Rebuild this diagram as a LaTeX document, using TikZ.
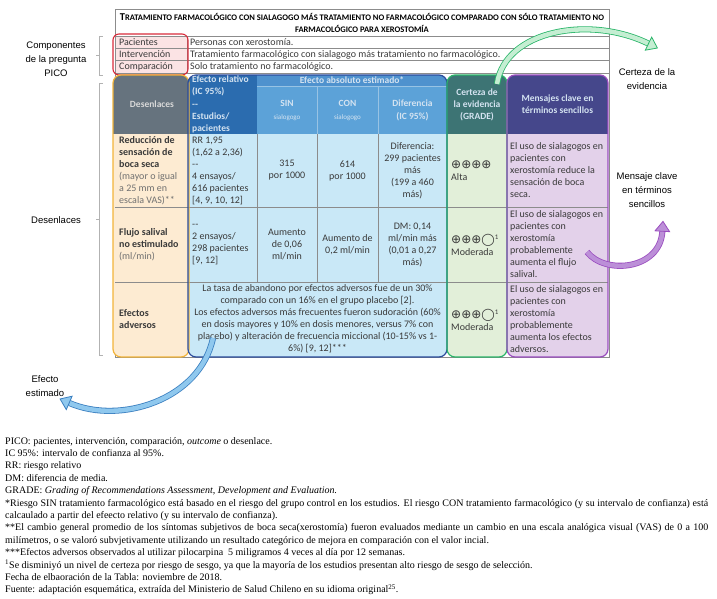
\documentclass[tikz,border=0pt]{standalone}
\usepackage{fontspec}
\setmainfont{Carlito}
\newfontfamily\armfont{Liberation Sans}
\newfontfamily\notefont{Liberation Serif}
\newfontfamily\symfont{DejaVu Sans}
\usetikzlibrary{positioning,arrows.meta}

\definecolor{pinkcell}{HTML}{FBE3E4}
\definecolor{redline}{HTML}{D92B3A}
\definecolor{gridgray}{HTML}{8C8C8C}
\definecolor{orgbody}{HTML}{FDEBD2}
\definecolor{orgline}{HTML}{F2B43A}
\definecolor{deshead}{HTML}{66737E}
\definecolor{relhead}{HTML}{2B6CAF}
\definecolor{absband}{HTML}{4F92CE}
\definecolor{abshead}{HTML}{5CA2D8}
\definecolor{bluebody}{HTML}{C9E8F7}
\definecolor{blueline}{HTML}{2B4C9C}
\definecolor{grnhead}{HTML}{3D7474}
\definecolor{grnbody}{HTML}{E2EFD9}
\definecolor{grnline}{HTML}{2BB56A}
\definecolor{purhead}{HTML}{45478B}
\definecolor{purbody}{HTML}{E3D1EA}
\definecolor{purline}{HTML}{9A4DBF}
\definecolor{bodytext}{HTML}{3A3A3A}
\definecolor{softtext}{HTML}{707070}
\definecolor{headtext}{HTML}{D4E3F1}
\definecolor{grnband}{HTML}{C4EED2}
\definecolor{purband}{HTML}{BC8FD8}
\definecolor{bluband}{HTML}{8FC8EE}
\definecolor{bluarrow}{HTML}{3A7FC0}

\newcommand\des[1]{\textbf{#1}}
\newcommand\desnote[1]{\textcolor{softtext}{#1}}

\begin{document}
\begin{tikzpicture}[x=1pt,y=-1pt,
	cell/.style={inner sep=0pt, align=center, text=bodytext, font=\fontsize{10}{12}\selectfont},
	lcell/.style={cell, align=left, anchor=west},
	headcell/.style={cell, text=headtext, font=\bfseries\fontsize{9.5}{12.3}\selectfont},
	picocell/.style={inner sep=0pt, anchor=west, text=bodytext, font=\fontsize{10}{12}\selectfont},
	side/.style={inner sep=0pt, align=center, font=\armfont\fontsize{9.5}{14}\selectfont},
	frame/.style={draw=gridgray, line width=0.6pt},
	brk/.style={draw=gray!60, line width=0.7pt},
	fat/.style 2 args={draw=#1, double=#2, line width=0.8pt, double distance=4.5pt,
		-{Triangle[width=16pt,length=11pt,line width=0.8pt,fill=#2]}}
	]
	\useasboundingbox (0,0) rectangle (717,599);

	% title and PICO rows
	\fill[pinkcell] (115,36) rectangle (187,73);
	\draw[frame] (115,9) rectangle (609,357);
	\draw[frame] (115,36) -- (609,36) (115,48.3) -- (609,48.3) (115,60.7) -- (609,60.7) (115,73) -- (609,73);
	\draw[frame] (187,36) -- (187,73);
	\draw[redline, line width=1.1pt, rounded corners=6pt] (113,34) rectangle (188,75);
	\node[cell, text=black, font=\bfseries\fontsize{8.5}{12.3}\selectfont] (title) at (362,23) {{\fontsize{10.5}{12.3}\selectfont T}RATAMIENTO FARMACOLÓGICO CON SIALAGOGO MÁS TRATAMIENTO NO FARMACOLÓGICO COMPARADO CON SÓLO TRATAMIENTO NO\\FARMACOLÓGICO PARA XEROSTOMÍA};
	\node[picocell] (pac) at (119,42) {Pacientes};
	\node[picocell] (int) at (119,54.5) {Intervención};
	\node[picocell] (comp) at (119,67) {Comparación};
	\node[picocell] (pacv) at (190,42) {Personas con xerostomía.};
	\node[picocell] (intv) at (190,54.5) {Tratamiento farmacológico con sialagogo más tratamiento no farmacológico.};
	\node[picocell] (compv) at (190,67) {Solo tratamiento no farmacológico.};

	% column boxes
	\foreach \xa/\xb/\bodyc/\headc in {113/189/orgbody/deshead, 188/447/bluebody/relhead, 447/507/grnbody/grnhead, 507/608/purbody/purhead}{
		\begin{scope}
			\clip[rounded corners=8pt] (\xa,75) rectangle (\xb,357);
			\fill[\bodyc] (\xa,75) rectangle (\xb,357);
			\fill[\headc] (\xa,75) rectangle (\xb,134);
		\end{scope}
	}
	\begin{scope}
		\clip[rounded corners=8pt] (188,75) rectangle (447,357);
		\fill[absband] (257,75) rectangle (447,86);
		\fill[abshead] (257,86) rectangle (447,134);
	\end{scope}
	\draw[frame] (115,207) -- (608,207) (115,282) -- (608,282);
	\foreach \x in {257,317,378}
		\draw[frame] (\x,134) -- (\x,282);
	\draw[headtext!50!abshead, line width=0.5pt] (257,86) -- (447,86) (317,86) -- (317,134) (378,86) -- (378,134);
	\foreach \xa/\xb/\edgec in {113/189/orgline, 188/447/blueline, 447/507/grnline, 507/608/purline}
		\draw[\edgec, line width=1.2pt, rounded corners=8pt] (\xa,75) rectangle (\xb,357);

	% headers
	\node[headcell, text=gray!30] (hdes) at (152,104.5) {Desenlaces};
	\node[headcell, align=left, anchor=west] (hrel) at (192,104.5) {Efecto relativo\\(IC 95\%)\\-{}-\\Estudios/\\pacientes};
	\node[headcell] (habs) at (352,80.5) {Efecto absoluto estimado*};
	\node[headcell] (hsin) at (287,110.5) {SIN\\{\mdseries\fontsize{7}{10}\selectfont sialogogo}};
	\node[headcell] (hcon) at (347.5,110.5) {CON\\{\mdseries\fontsize{7}{10}\selectfont sialogogo}};
	\node[headcell] (hdif) at (412.5,110.5) {Diferencia\\(IC 95\%)};
	\node[headcell] (hgrade) at (477,105) {Certeza de\\la evidencia\\(GRADE)};
	\node[headcell] (hmsg) at (557.5,104) {Mensajes clave en\\términos sencillos};

	% row 1
	\node[lcell] (r1des) at (119,170.5) {\des{Reducción de}\\\des{sensación de}\\\des{boca seca}\\\desnote{(mayor o igual}\\\desnote{a 25 mm en}\\\desnote{escala VAS)**}};
	\node[lcell] (r1rel) at (192,170.5) {RR 1,95\\(1,62 a 2,36)\\-{}-\\4 ensayos/\\616 pacientes\\{[4, 9, 10, 12]}};
	\node[cell] (r1sin) at (287,170.5) {315\\por 1000};
	\node[cell] (r1con) at (347.5,170.5) {614\\por 1000};
	\node[cell] (r1dif) at (412.5,170.5) {Diferencia:\\299 pacientes\\más\\(199 a 460\\más)};
	\node[lcell] (r1grade) at (451,171) {{\symfont\fontsize{12}{12}\selectfont ⊕⊕⊕⊕}\\Alta};
	\node[lcell] (r1msg) at (510,170.5) {El uso de sialagogos en\\pacientes con\\xerostomía reduce la\\sensación de boca\\seca.};

	% row 2
	\node[lcell] (r2des) at (119,244.5) {\des{Flujo salival}\\\des{no estimulado}\\\desnote{(ml/min)}};
	\node[lcell] (r2rel) at (192,244.5) {-{}-\\2 ensayos/\\298 pacientes\\{[9, 12]}};
	\node[cell] (r2sin) at (287,244.5) {Aumento\\de 0,06\\ml/min};
	\node[cell] (r2con) at (347.5,244.5) {Aumento de\\0,2 ml/min};
	\node[cell] (r2dif) at (412.5,244.5) {DM: 0,14\\ml/min más\\(0,01 a 0,27\\más)};
	\node[lcell] (r2grade) at (451,245) {{\symfont\fontsize{12}{12}\selectfont ⊕⊕⊕◯}\textsuperscript{1}\\Moderada};
	\node[lcell] (r2msg) at (510,244.5) {El uso de sialagogos en\\pacientes con\\xerostomía\\probablemente\\aumenta el flujo\\salival.};

	% row 3
	\node[lcell] (r3des) at (119,319) {\des{Efectos}\\\des{adversos}};
	\node[cell] (r3eff) at (317.5,319) {La tasa de abandono por efectos adversos fue de un 30\%\\comparado con un 16\% en el grupo placebo [2].\\Los efectos adversos más frecuentes fueron sudoración (60\%\\en dosis mayores y 10\% en dosis menores, versus 7\% con\\placebo) y alteración de frecuencia miccional (10-15\% vs 1-\\6\%) [9, 12]***};
	\node[lcell] (r3grade) at (451,319.5) {{\symfont\fontsize{12}{12}\selectfont ⊕⊕⊕◯}\textsuperscript{1}\\Moderada};
	\node[lcell] (r3msg) at (510,319) {El uso de sialagogos en\\pacientes con\\xerostomía\\probablemente\\aumenta los efectos\\adversos.};

	% side labels
	\node[side] (pico) at (56,59) {Componentes\\de la pregunta\\PICO};
	\node[side] (desen) at (56,220) {Desenlaces};
	\node[side] (certeza) at (647,79) {Certeza de la\\evidencia};
	\node[side] (mensaje) at (647,190) {Mensaje clave\\en términos\\sencillos};
	\node[side] (efecto) at (45,386) {Efecto\\estimado};
	\draw[brk] (103,36) -- (99,36) -- (99,75) -- (103,75) (99,55.5) -- (96,55.5);
	\draw[brk] (103,83) -- (99,83) -- (99,355) -- (103,355) (99,219) -- (96,219);

	% curved arrows
	\coordinate (gsrc) at (497,84);
	\coordinate (psrc) at (587,252);
	\coordinate (bsrc) at (213,338);
	\draw[fat={grnline}{grnband}] (gsrc) .. controls (505,30) and (590,15) .. ([xshift=11pt,yshift=20pt]certeza.north);
	\draw[fat={purline}{purband}] (psrc) .. controls (605,275) and (660,270) .. ([xshift=16pt,yshift=-13pt]mensaje.south);
	\draw[fat={bluarrow}{bluband}] (bsrc) .. controls (200,400) and (120,425) .. ([xshift=-5pt,yshift=-2pt]efecto.south east);

	% notes
	\node[anchor=north west, inner sep=0pt, text width=703pt, align=justify, font=\notefont\fontsize{10}{12.4}\selectfont] (notes) at (5,437) {PICO: pacientes, intervención, comparación, \textit{outcome} o desenlace.\\
		IC 95\%: intervalo de confianza al 95\%.\\
		RR: riesgo relativo\\
		DM: diferencia de media.\\
		GRADE: \textit{Grading of Recommendations Assessment, Development and Evaluation.}\\
		{}*Riesgo SIN tratamiento farmacológico está basado en el riesgo del grupo control en los estudios. El riesgo CON tratamiento farmacológico (y su intervalo de confianza) está\linebreak calcaulado a partir del efeecto relativo (y su intervalo de confianza).\\
		{}**El cambio general promedio de los síntomas subjetivos de boca seca(xerostomía) fueron evaluados mediante un cambio en una escala analógica visual (VAS) de 0 a 100\linebreak milímetros, o se valoró subvjetivamente utilizando un resultado categórico de mejora en comparación con el valor incial.\\
		{}***Efectos adversos observados al utilizar pilocarpina\ \ 5 miligramos 4 veces al día por 12 semanas.\\
		\textsuperscript{1}Se disminiyó un nivel de certeza por riesgo de sesgo, ya que la mayoría de los estudios presentan alto riesgo de sesgo de selección.\\
		Fecha de elbaoración de la Tabla: noviembre de 2018.\\
		Fuente: adaptación esquemática, extraída del Ministerio de Salud Chileno en su idioma original\textsuperscript{25}.};
\end{tikzpicture}
\end{document}
